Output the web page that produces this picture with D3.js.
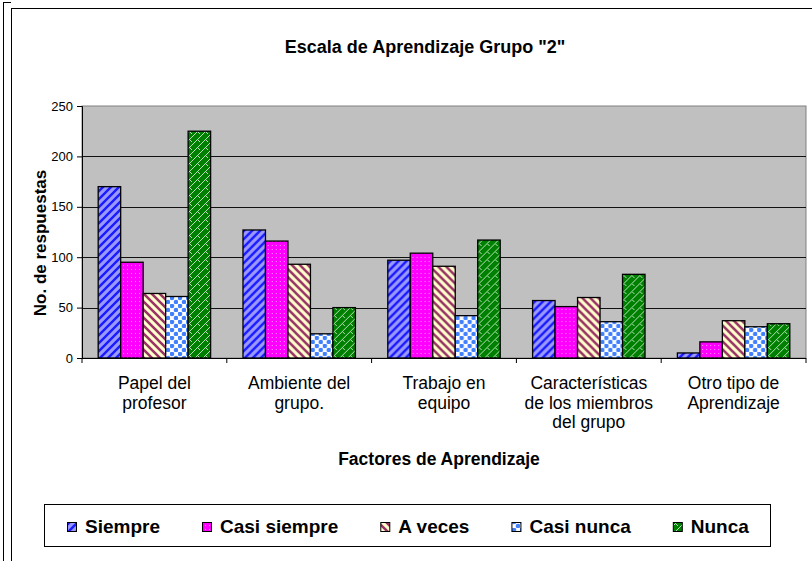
<!DOCTYPE html>
<html>
<head>
<meta charset="utf-8">
<script src="https://cdn.jsdelivr.net/npm/d3@7"></script>
<style>
  body { margin: 0; background: #fff; }
  svg { display: block; font-family: "Liberation Sans", Arial, sans-serif; }
</style>
</head>
<body>
<div id="chart"></div>
<script>
// data
const categories = [
    ['Papel del', 'profesor'],
    ['Ambiente del', 'grupo.'],
    ['Trabajo en', 'equipo'],
    ['Características', 'de los miembros', 'del grupo'],
    ['Otro tipo de', 'Aprendizaje']
];
const seriesNames = ['Siempre', 'Casi siempre', 'A veces', 'Casi nunca', 'Nunca'];
const siempre     = [170, 127, 97, 57, 5];
const casiSiempre = [95, 116, 104, 51, 16];
const aVeces      = [64, 93, 91, 60, 37];
const casiNunca   = [61, 24, 42, 36, 31];
const nunca       = [225, 50, 117, 83, 34];
const yTicks = [0, 50, 100, 150, 200, 250];

const seriesValues = [siempre, casiSiempre, aVeces, casiNunca, nunca];

const W = 812, H = 561;
const plot = { left: 82, top: 106, right: 806, bottom: 358 };

const svg = d3.select('#chart').append('svg')
    .attr('width', W).attr('height', H);

// patterns for the bars
const defs = svg.append('defs');
function pat(id, size) {
    return defs.append('pattern').attr('id', id)
        .attr('patternUnits', 'userSpaceOnUse')
        .attr('width', size).attr('height', size);
}
// Siempre: blue upward diagonal
let p = pat('p0', 8);
p.append('rect').attr('width', 8).attr('height', 8).attr('fill', '#9999ff');
p.append('path').attr('d', 'M-2,2 L2,-2 M0,8 L8,0 M6,10 L10,6')
    .attr('stroke', '#1a1aff').attr('stroke-width', 2.4);
// Casi siempre: magenta with light dots
p = pat('p1', 4);
p.append('rect').attr('width', 4).attr('height', 4).attr('fill', '#ff00ff');
p.append('rect').attr('x', 1).attr('y', 1).attr('width', 1).attr('height', 1).attr('fill', '#ff99ff');
// A veces: maroon downward diagonal on cream
p = pat('p2', 8);
p.append('rect').attr('width', 8).attr('height', 8).attr('fill', '#ffffcc');
p.append('path').attr('d', 'M-2,6 L2,10 M0,0 L8,8 M6,-2 L10,2')
    .attr('stroke', '#993366').attr('stroke-width', 2.6);
// Casi nunca: blue dots on white
p = pat('p3', 8);
p.append('rect').attr('width', 8).attr('height', 8).attr('fill', '#ffffff');
p.append('circle').attr('cx', 2).attr('cy', 2).attr('r', 2.3).attr('fill', '#4080ff');
p.append('circle').attr('cx', 6).attr('cy', 6).attr('r', 2.3).attr('fill', '#4080ff');
// Nunca: green with light weave
p = pat('p4', 8);
p.append('rect').attr('width', 8).attr('height', 8).attr('fill', '#008000');
p.append('path').attr('d', 'M0,7 L7,0 M3,3 L6,6 M7,8 L8,7')
    .attr('stroke', '#b8e0b8').attr('stroke-width', 1).attr('fill', 'none');

// outer frame lines
svg.append('line').attr('x1', 3.5).attr('x2', 3.5).attr('y1', 2).attr('y2', H)
    .attr('stroke', '#000');
svg.append('line').attr('x1', 3.5).attr('x2', 11).attr('y1', 2.5).attr('y2', 2.5)
    .attr('stroke', '#000');
svg.append('rect').attr('x', 11.5).attr('y', 8.5).attr('width', W).attr('height', H)
    .attr('fill', '#fff').attr('stroke', '#000');

// scales
const x0 = d3.scaleBand().domain(d3.range(categories.length))
    .range([plot.left, plot.right]).paddingInner(0).paddingOuter(0);
const x1 = d3.scaleBand().domain(d3.range(seriesNames.length))
    .range([0, x0.bandwidth()]).paddingInner(0).paddingOuter(0.72);
const y = d3.scaleLinear().domain([0, 250]).range([plot.bottom, plot.top]);

// plot area
svg.append('rect')
    .attr('x', plot.left).attr('y', plot.top)
    .attr('width', plot.right - plot.left).attr('height', plot.bottom - plot.top)
    .attr('fill', '#c0c0c0').attr('stroke', '#808080');

// gridlines
svg.append('g').selectAll('line')
    .data(yTicks.filter(d => d > 0 && d < 250))
    .join('line')
    .attr('x1', plot.left).attr('x2', plot.right)
    .attr('y1', d => Math.round(y(d)) + 0.5).attr('y2', d => Math.round(y(d)) + 0.5)
    .attr('stroke', '#111');

// bars
const groups = svg.append('g').selectAll('g')
    .data(categories.map((c, i) => i))
    .join('g')
    .attr('transform', i => `translate(${x0(i)},0)`);

groups.selectAll('rect')
    .data(i => seriesValues.map((s, j) => ({ j, v: s[i] })))
    .join('rect')
    .attr('x', d => x1(d.j))
    .attr('y', d => y(d.v))
    .attr('width', x1.bandwidth())
    .attr('height', d => y(0) - y(d.v))
    .attr('fill', d => `url(#p${d.j})`)
    .attr('stroke', '#000')
    .attr('stroke-width', 1.3);

// y axis
const yAxis = d3.axisLeft(y).tickValues(yTicks).tickSize(5).tickPadding(4);
const yg = svg.append('g').attr('transform', `translate(${plot.left},0)`).call(yAxis);
yg.select('.domain').attr('stroke', '#000');
yg.selectAll('.tick line').attr('stroke', '#000');
yg.selectAll('.tick text').attr('font-size', 13).attr('fill', '#000')
    .attr('font-family', '"Liberation Sans", Arial, sans-serif');

// x axis
svg.append('line').attr('x1', plot.left).attr('x2', plot.right)
    .attr('y1', plot.bottom + 0.5).attr('y2', plot.bottom + 0.5).attr('stroke', '#000');
svg.append('g').selectAll('line')
    .data(d3.range(categories.length + 1))
    .join('line')
    .attr('x1', i => i < categories.length ? x0(i) : plot.right)
    .attr('x2', i => i < categories.length ? x0(i) : plot.right)
    .attr('y1', plot.bottom).attr('y2', plot.bottom + 5)
    .attr('stroke', '#000');

// category labels
svg.append('g').selectAll('text')
    .data(categories)
    .join('text')
    .attr('x', (d, i) => x0(i) + x0.bandwidth() / 2)
    .attr('y', 389)
    .attr('text-anchor', 'middle')
    .attr('font-size', 17.5)
    .attr('fill', '#000')
    .selectAll('tspan')
    .data(d => d)
    .join('tspan')
    .attr('x', function () { return this.parentNode.getAttribute('x'); })
    .attr('dy', (d, k) => k === 0 ? 0 : 19.5)
    .text(d => d);

// titles
svg.append('text').attr('x', 425).attr('y', 53)
    .attr('text-anchor', 'middle').attr('font-size', 18).attr('font-weight', 'bold')
    .text('Escala de Aprendizaje Grupo "2"');
svg.append('text').attr('x', 439).attr('y', 465)
    .attr('text-anchor', 'middle').attr('font-size', 17.5).attr('font-weight', 'bold')
    .text('Factores de Aprendizaje');
svg.append('text')
    .attr('transform', 'translate(46,243) rotate(-90)')
    .attr('text-anchor', 'middle').attr('font-size', 17).attr('font-weight', 'bold')
    .text('No. de respuestas');

// legend
const legend = svg.append('g');
legend.append('rect').attr('x', 44.5).attr('y', 504.5).attr('width', 726).attr('height', 42)
    .attr('fill', '#fff').attr('stroke', '#000');
let lx = 67;
seriesNames.forEach((name, j) => {
    legend.append('rect').attr('x', lx + 0.5).attr('y', 522.5).attr('width', 9).attr('height', 9)
        .attr('fill', `url(#p${j})`).attr('stroke', '#000');
    const t = legend.append('text').attr('x', lx + 18).attr('y', 533)
        .attr('font-size', 19).attr('font-weight', 'bold').text(name);
    lx = lx + 18 + t.node().getComputedTextLength() + 42;
});
</script>
</body>
</html>
